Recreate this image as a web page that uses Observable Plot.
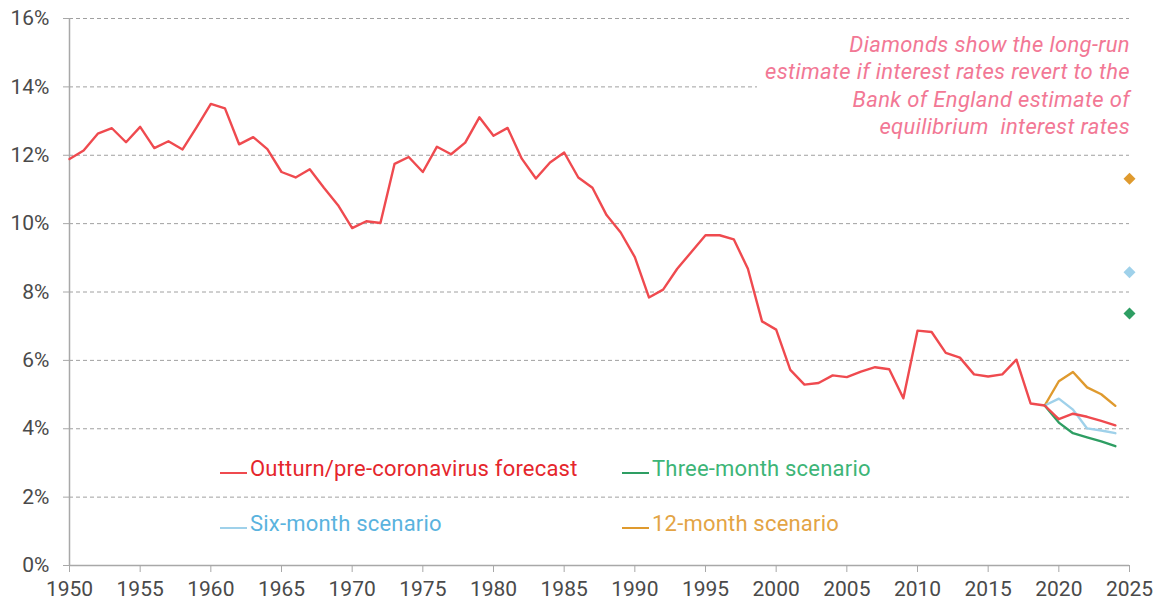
<!DOCTYPE html>
<html>
<head>
<meta charset="utf-8">
<script src="https://cdn.jsdelivr.net/npm/d3@7"></script>
<script src="https://cdn.jsdelivr.net/npm/@observablehq/plot@0.6"></script>
<style>
  html, body { margin: 0; padding: 0; background: #fff; }
  #wrap { position: relative; width: 1159px; height: 604px; font-family: Roboto, "Noto Sans", sans-serif; }
  #note {
    position: absolute; right: 29px; top: 29px; white-space: nowrap;
    background: #fff; color: #f27895; font-style: italic; font-size: 22px;
    letter-spacing: 0.35px;
    line-height: 27.4px; text-align: right; padding: 2px 0 6px 8px;
  }
  .leg { position: absolute; font-size: 22px; letter-spacing: 0.2px; white-space: nowrap; line-height: 26px; }
  .leg .sw { display: inline-block; width: 27px; height: 0; border-top: 2.5px solid; vertical-align: middle; margin-right: 3px; position: relative; top: 3px; }
</style>
</head>
<body>
<div id="wrap"></div>
<script>
// ---- data ----
const outturnStart = 1950;
const outturn = [
  11.89, 12.14, 12.63, 12.79, 12.38, 12.83, 12.21, 12.41, 12.17, 12.82,
  13.50, 13.37, 12.32, 12.53, 12.18, 11.51, 11.35, 11.59, 11.05, 10.54,
  9.87, 10.07, 10.02, 11.75, 11.95, 11.51, 12.25, 12.03, 12.37, 13.11,
  12.57, 12.80, 11.90, 11.32, 11.79, 12.08, 11.35, 11.05, 10.25, 9.74,
  9.02, 7.84, 8.07, 8.68, 9.17, 9.66, 9.66, 9.54, 8.68, 7.14,
  6.90, 5.72, 5.29, 5.34, 5.56, 5.51, 5.67, 5.80, 5.74, 4.89,
  6.87, 6.83, 6.22, 6.08, 5.59, 5.53, 5.59, 6.02, 4.74, 4.68,
  4.28, 4.44, 4.35, 4.23, 4.10
];
const scenarioYears = [2019, 2020, 2021, 2022, 2023, 2024];
const threeMonth = [4.68, 4.18, 3.87, 3.75, 3.63, 3.49];
const sixMonth   = [4.68, 4.88, 4.56, 4.01, 3.95, 3.87];
const twelveMonth = [4.68, 5.39, 5.66, 5.21, 5.01, 4.67];

const diamondYear = 2025;
const diamondSeries = ["12-month scenario", "Six-month scenario", "Three-month scenario"];
const diamondValues = [11.31, 8.58, 7.37];

const seriesNames = ["Outturn/pre-coronavirus forecast", "Three-month scenario", "Six-month scenario", "12-month scenario"];
const lineColors  = ["#ef4a4f", "#2e9e63", "#9fd1ea", "#df9a2e"];
const textColors  = ["#e5262c", "#3db577", "#5ab3de", "#e3a445"];

const xTicks = [1950, 1955, 1960, 1965, 1970, 1975, 1980, 1985, 1990, 1995, 2000, 2005, 2010, 2015, 2020, 2025];
const yTicks = [0, 2, 4, 6, 8, 10, 12, 14, 16];

const note = "Diamonds show the long-run<br>estimate if interest rates revert to the<br>Bank of England estimate of<br>equilibrium&nbsp; interest rates";

// ---- tables ----
const outRows = outturn.map((v, i) => ({year: outturnStart + i, value: v}));
const mk = arr => scenarioYears.map((y, i) => ({year: y, value: arr[i]}));
const colorOf = name => lineColors[seriesNames.indexOf(name)];
const diamonds = diamondValues.map((v, i) => ({year: diamondYear, value: v, color: colorOf(diamondSeries[i])}));

const chart = Plot.plot({
  width: 1159,
  height: 604,
  marginLeft: 69,
  marginRight: 30,
  marginTop: 18,
  marginBottom: 39,
  style: {fontFamily: "Roboto, sans-serif", background: "#fff"},
  x: {domain: [1950, 2025]},
  y: {domain: [0, 16]},
  marks: [
    Plot.gridY(yTicks, {stroke: "#a0a0a0", strokeOpacity: 1, strokeDasharray: "4,3"}),
    Plot.ruleX([1950], {stroke: "#a8a8a8", strokeWidth: 1.5}),
    Plot.ruleY([0], {stroke: "#a8a8a8", strokeWidth: 1.5}),
    Plot.axisY({ticks: yTicks, tickFormat: d => d + "%", tickSize: 6, tickPadding: 14, fontSize: 21, stroke: "#a8a8a8", fill: "#4a4a4a", label: null}),
    Plot.axisX({ticks: xTicks, tickFormat: d => String(d), tickSize: 7, tickPadding: 9, fontSize: 21, stroke: "#a8a8a8", fill: "#4a4a4a", label: null}),
    Plot.lineY(mk(twelveMonth), {x: "year", y: "value", stroke: lineColors[3], strokeWidth: 2.4}),
    Plot.lineY(mk(sixMonth), {x: "year", y: "value", stroke: lineColors[2], strokeWidth: 2.4}),
    Plot.lineY(mk(threeMonth), {x: "year", y: "value", stroke: lineColors[1], strokeWidth: 2.4}),
    Plot.lineY(outRows, {x: "year", y: "value", stroke: lineColors[0], strokeWidth: 2.4}),
    Plot.dot(diamonds, {x: "year", y: "value", fill: "color", symbol: "diamond2", r: 5.4})
  ]
});

const wrap = document.getElementById("wrap");
wrap.appendChild(chart);

const n = document.createElement("div");
n.id = "note";
n.innerHTML = note;
wrap.appendChild(n);

const legendPos = [[220, 456], [622, 456], [220, 511], [622, 511]];
const legendOrder = [0, 1, 2, 3];
legendOrder.forEach((k, i) => {
  const d = document.createElement("div");
  d.className = "leg";
  d.style.left = legendPos[i][0] + "px";
  d.style.top = legendPos[i][1] + "px";
  d.style.color = textColors[k];
  const sw = document.createElement("span");
  sw.className = "sw";
  sw.style.borderTopColor = lineColors[k];
  d.appendChild(sw);
  d.appendChild(document.createTextNode(seriesNames[k]));
  wrap.appendChild(d);
});
</script>
</body>
</html>
